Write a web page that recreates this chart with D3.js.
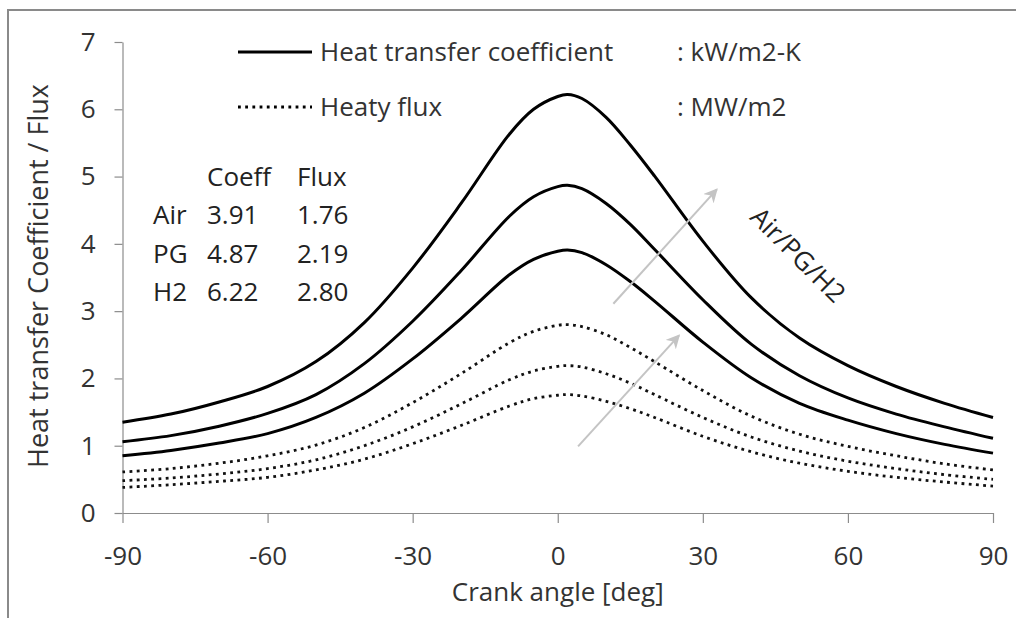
<!DOCTYPE html>
<html>
<head>
<meta charset="utf-8">
<script src="https://cdn.jsdelivr.net/npm/d3@7"></script>
<style>
  body { margin: 0; background: #fff; }
  svg { display: block; font-family: "Open Sans", Lato, sans-serif; }
</style>
</head>
<body>
<div id="chartContainer"></div>
<script>
// crank angle samples [deg]
var angles = [-90, -80, -70, -60, -50, -40, -30, -20, -10, -5, 0, 2, 5, 10, 15, 20, 30, 40, 50, 60, 70, 80, 90];

// heat transfer coefficient [kW/m2-K]
var coeffAir = [0.85, 0.93, 1.04, 1.18, 1.42, 1.78, 2.29, 2.89, 3.54, 3.77, 3.89, 3.91, 3.87, 3.69, 3.44, 3.15, 2.54, 2.01, 1.63, 1.38, 1.18, 1.02, 0.89];
var coeffPG  = [1.06, 1.15, 1.29, 1.48, 1.76, 2.22, 2.85, 3.60, 4.41, 4.70, 4.85, 4.87, 4.82, 4.60, 4.29, 3.92, 3.17, 2.51, 2.04, 1.71, 1.47, 1.28, 1.11];
var coeffH2  = [1.35, 1.47, 1.65, 1.88, 2.25, 2.83, 3.64, 4.60, 5.63, 6.00, 6.19, 6.22, 6.16, 5.88, 5.47, 5.01, 4.04, 3.20, 2.60, 2.19, 1.88, 1.63, 1.42];

// heat flux [MW/m2]
var fluxAir = [0.38, 0.42, 0.47, 0.53, 0.64, 0.80, 1.03, 1.30, 1.59, 1.70, 1.75, 1.76, 1.74, 1.66, 1.55, 1.42, 1.14, 0.91, 0.74, 0.62, 0.53, 0.46, 0.40];
var fluxPG  = [0.48, 0.52, 0.58, 0.66, 0.79, 1.00, 1.28, 1.62, 1.98, 2.11, 2.18, 2.19, 2.17, 2.07, 1.93, 1.76, 1.42, 1.13, 0.92, 0.77, 0.66, 0.57, 0.50];
var fluxH2  = [0.61, 0.66, 0.74, 0.85, 1.01, 1.27, 1.64, 2.07, 2.53, 2.70, 2.79, 2.80, 2.77, 2.65, 2.46, 2.25, 1.82, 1.44, 1.17, 0.99, 0.85, 0.73, 0.64];

var xTicks = [-90, -60, -30, 0, 30, 60, 90];
var yTicks = [0, 1, 2, 3, 4, 5, 6, 7];

// peak value table
var gases = ["Air", "PG", "H2"];
var peakCoeff = ["3.91", "4.87", "6.22"];
var peakFlux = ["1.76", "2.19", "2.80"];

var legendNames = ["Heat transfer coefficient", "Heaty flux"];
var legendUnits = [": kW/m2-K", ": MW/m2"];

// trend arrows, [angle, value] from -> to
var arrowFrom = [[11.5, 3.11], [4.2, 0.99]];
var arrowTo = [[32.9, 4.81], [25.1, 2.64]];

var width = 1016, height = 618;
var textColor = "#333";
var axisColor = "#8c8c8c";

var svg = d3.select("#chartContainer")
    .append("svg")
    .attr("width", width)
    .attr("height", height);

// outer frame (right and bottom run off the picture)
svg.append("rect")
    .attr("x", 8).attr("y", 10)
    .attr("width", 1030).attr("height", 640)
    .attr("fill", "none")
    .attr("stroke", "#8a8a8a")
    .attr("stroke-width", 2);

var x = d3.scaleLinear().domain([-90, 90]).range([122.5, 993]);
var y = d3.scaleLinear().domain([0, 7]).range([513, 42]);

var xAxis = svg.append("g")
    .attr("transform", "translate(0," + y(0) + ")")
    .call(d3.axisBottom(x).tickValues(xTicks).tickSize(10).tickPadding(24)
        .tickSizeOuter(0).tickFormat(function(d){ return String(d); }));

var yAxis = svg.append("g")
    .attr("transform", "translate(" + x(-90) + ",0)")
    .call(d3.axisLeft(y).tickValues(yTicks).tickSize(8).tickPadding(19)
        .tickSizeOuter(0).tickFormat(function(d){ return String(d); }));

[xAxis, yAxis].forEach(function(ax){
    ax.select(".domain").attr("stroke", axisColor).attr("stroke-width", 1.2);
    ax.selectAll(".tick line").attr("stroke", axisColor).attr("stroke-width", 1.2);
    ax.selectAll(".tick text")
        .attr("fill", textColor)
        .attr("font-size", 26)
        .attr("font-family", "'Open Sans', sans-serif");
});

svg.append("text")
    .attr("x", x(0))
    .attr("y", 592)
    .attr("dy", "0.35em")
    .attr("text-anchor", "middle")
    .attr("fill", textColor)
    .attr("font-size", 26)
    .text("Crank angle [deg]");

svg.append("text")
    .attr("transform", "translate(39,276) rotate(-90)")
    .attr("text-anchor", "middle")
    .attr("dy", "0.35em")
    .attr("fill", textColor)
    .attr("font-size", 27)
    .text("Heat transfer Coefficient / Flux");

var line = d3.line()
    .x(function(d) { return x(d[0]); })
    .y(function(d) { return y(d[1]); })
    .curve(d3.curveCatmullRom.alpha(0.5));

function pairs(values) {
    return angles.map(function(a, i) { return [a, values[i]]; });
}

[fluxAir, fluxPG, fluxH2].forEach(function(series){
    svg.append("path")
        .attr("d", line(pairs(series)))
        .attr("fill", "none")
        .attr("stroke", "#111")
        .attr("stroke-width", 2.8)
        .attr("stroke-dasharray", "2.8,4.4");
});

[coeffAir, coeffPG, coeffH2].forEach(function(series){
    svg.append("path")
        .attr("d", line(pairs(series)))
        .attr("fill", "none")
        .attr("stroke", "#000")
        .attr("stroke-width", 3);
});

// arrows
svg.append("defs").append("marker")
    .attr("id", "head")
    .attr("viewBox", "0 0 10 10")
    .attr("refX", 9).attr("refY", 5)
    .attr("markerWidth", 7).attr("markerHeight", 7)
    .attr("markerUnits", "strokeWidth")
    .attr("orient", "auto")
    .append("path")
    .attr("d", "M0,0 L10,5 L0,10 L3,5 Z")
    .attr("fill", "#c4c4c4");

arrowFrom.forEach(function(from, i){
    svg.append("line")
        .attr("x1", x(from[0])).attr("y1", y(from[1]))
        .attr("x2", x(arrowTo[i][0])).attr("y2", y(arrowTo[i][1]))
        .attr("stroke", "#c4c4c4")
        .attr("stroke-width", 2)
        .attr("marker-end", "url(#head)");
});

svg.append("text")
    .attr("transform", "translate(798,255) rotate(45)")
    .attr("text-anchor", "middle")
    .attr("dy", "0.35em")
    .attr("fill", "#222")
    .attr("font-size", 26)
    .text("Air/PG/H2");

// legend
var legendY = [52, 107];
legendNames.forEach(function(name, i){
    var ln = svg.append("line")
        .attr("x1", 238).attr("x2", 312)
        .attr("y1", legendY[i]).attr("y2", legendY[i])
        .attr("stroke", "#000")
        .attr("stroke-width", i === 0 ? 3 : 2.8);
    if (i === 1) ln.attr("stroke-dasharray", "2.8,4.4");
    svg.append("text")
        .attr("x", 320).attr("y", legendY[i])
        .attr("dy", "0.35em")
        .attr("fill", textColor)
        .attr("font-size", 26)
        .text(name);
    svg.append("text")
        .attr("x", 677).attr("y", legendY[i])
        .attr("dy", "0.35em")
        .attr("fill", textColor)
        .attr("font-size", 26)
        .text(legendUnits[i]);
});

// peak table
var tableX = [153, 207, 297];
var rowY = [177, 215, 254, 292];
["Coeff", "Flux"].forEach(function(h, i){
    svg.append("text")
        .attr("x", tableX[i + 1]).attr("y", rowY[0])
        .attr("dy", "0.35em")
        .attr("fill", "#222")
        .attr("font-size", 26)
        .text(h);
});
gases.forEach(function(g, i){
    [g, peakCoeff[i], peakFlux[i]].forEach(function(t, j){
        svg.append("text")
            .attr("x", tableX[j]).attr("y", rowY[i + 1])
            .attr("dy", "0.35em")
            .attr("fill", "#222")
            .attr("font-size", 26)
            .text(t);
    });
});
</script>
</body>
</html>
